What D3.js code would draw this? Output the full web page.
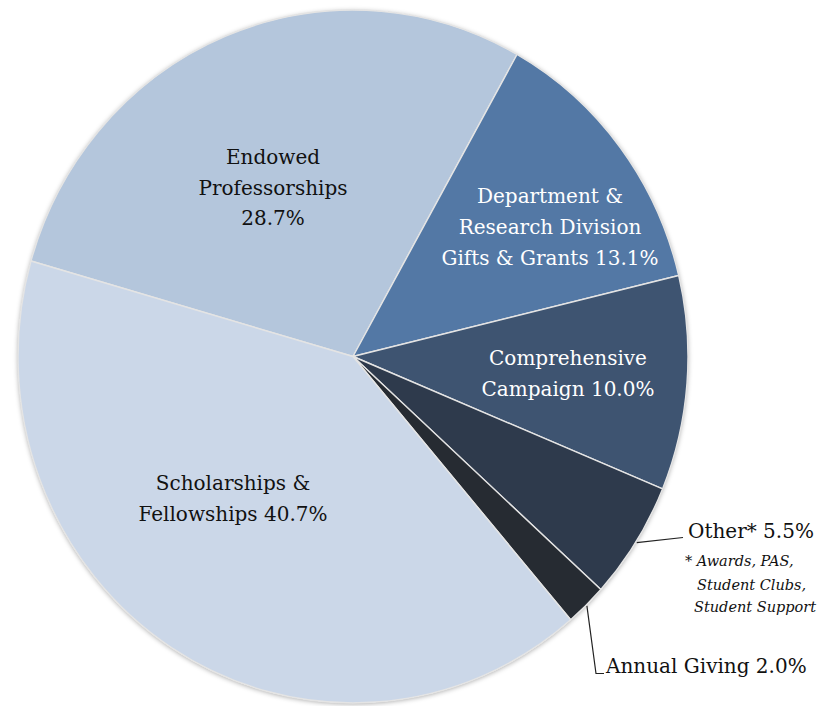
<!DOCTYPE html>
<html>
<head>
<meta charset="utf-8">
<script src="https://cdn.jsdelivr.net/npm/d3@7"></script>
<style>
  body { margin: 0; background: #fff; }
  svg text { font-family: "Palatino Linotype", "Book Antiqua", Palatino, "DejaVu Serif", serif; }
</style>
</head>
<body>
<div id="chart"></div>
<script>
// dữ liệu
const categories = ["Endowed Professorships", "Department & Research Division Gifts & Grants",
  "Comprehensive Campaign", "Other", "Annual Giving", "Scholarships & Fellowships"];
const values = [28.7, 13.1, 10.0, 5.5, 2.0, 40.7];
const sliceColors = ["#b4c6dc", "#5378a5", "#3e5471", "#2e3a4c", "#262b32", "#cbd7e8"];
const noteLines = ["* Awards, PAS,", "Student Clubs,", "Student Support"];

const width = 835, height = 706;
const cx = 353, cy = 356.5, r = 335, squash = 1.034;
const startDeg = -74;

const svg = d3.select("#chart").append("svg")
  .attr("width", width).attr("height", height);

const defs = svg.append("defs");
const f = defs.append("filter").attr("id", "shadow")
  .attr("x", "-10%").attr("y", "-10%").attr("width", "120%").attr("height", "120%");
f.append("feDropShadow").attr("dx", 0).attr("dy", 1).attr("stdDeviation", 2.5)
  .attr("flood-color", "#000").attr("flood-opacity", 0.35);

const data = categories.map((c, i) => ({ name: c, value: values[i], color: sliceColors[i] }));

const pie = d3.pie().sort(null).value(d => d.value)
  .startAngle(startDeg * Math.PI / 180)
  .endAngle((startDeg + 360) * Math.PI / 180);
const arcs = pie(data);
const arc = d3.arc().innerRadius(0).outerRadius(r);

const g = svg.append("g")
  .attr("transform", `translate(${cx},${cy}) scale(1,${squash})`);

// bóng đổ dưới hình tròn
g.append("circle").attr("r", r).attr("fill", "#fff").attr("filter", "url(#shadow)");

g.selectAll("path.slice")
  .data(arcs)
  .enter().append("path")
    .attr("class", "slice")
    .attr("d", arc)
    .attr("fill", d => d.data.color)
    .attr("stroke", "#e4e4e4")
    .attr("stroke-width", 1.4)
    .attr("stroke-linejoin", "round");

// điểm trên mép ở góc giữa lát (tọa độ màn hình)
function rimPoint(a, rr) {
  const mid = (a.startAngle + a.endAngle) / 2;
  return [cx + Math.sin(mid) * rr, cy - Math.cos(mid) * rr * squash];
}

// ==== nhãn trong lát ====
const inner = [
  { i: 0, x: 273, y: 164, lines: ["Endowed", "Professorships", "28.7%"], fill: "#111", dy: 30.5 },
  { i: 1, x: 550, y: 203, lines: ["Department &", "Research Division", "Gifts & Grants 13.1%"], fill: "#fff", dy: 31 },
  { i: 2, x: 568, y: 365, lines: ["Comprehensive", "Campaign 10.0%"], fill: "#fff", dy: 30.5 },
  { i: 5, x: 233, y: 490, lines: ["Scholarships &", "Fellowships 40.7%"], fill: "#111", dy: 31 }
];
inner.forEach(l => {
  const t = svg.append("text")
    .attr("text-anchor", "middle")
    .attr("fill", l.fill)
    .style("font-size", "20px");
  l.lines.forEach((s, k) => {
    t.append("tspan").attr("x", l.x).attr("y", l.y + k * l.dy).text(s);
  });
});

// ==== nhãn ngoài + đường dẫn ====
const pOther = rimPoint(arcs[3], r + 1);
svg.append("path")
  .attr("d", d3.line()([pOther, [683, 537.5]]))
  .attr("fill", "none").attr("stroke", "#222").attr("stroke-width", 1.2);
svg.append("text")
  .attr("x", 688).attr("y", 538)
  .attr("fill", "#111")
  .style("font-size", "20px")
  .text(`Other* ${values[3].toFixed(1)}%`);

const noteX = [685, 697, 694], noteY = [566, 590, 612];
noteLines.forEach((s, k) => {
  svg.append("text")
    .attr("x", noteX[k]).attr("y", noteY[k])
    .attr("fill", "#111")
    .style("font-size", "14.5px")
    .style("font-style", "italic")
    .text(s);
});

const pAnnual = rimPoint(arcs[4], r + 1);
svg.append("path")
  .attr("d", d3.line()([pAnnual, [596, 673.5], [604, 673.5]]))
  .attr("fill", "none").attr("stroke", "#222").attr("stroke-width", 1.2);
svg.append("text")
  .attr("x", 606).attr("y", 673)
  .attr("fill", "#111")
  .style("font-size", "20px")
  .text(`Annual Giving ${values[4].toFixed(1)}%`);
</script>
</body>
</html>
